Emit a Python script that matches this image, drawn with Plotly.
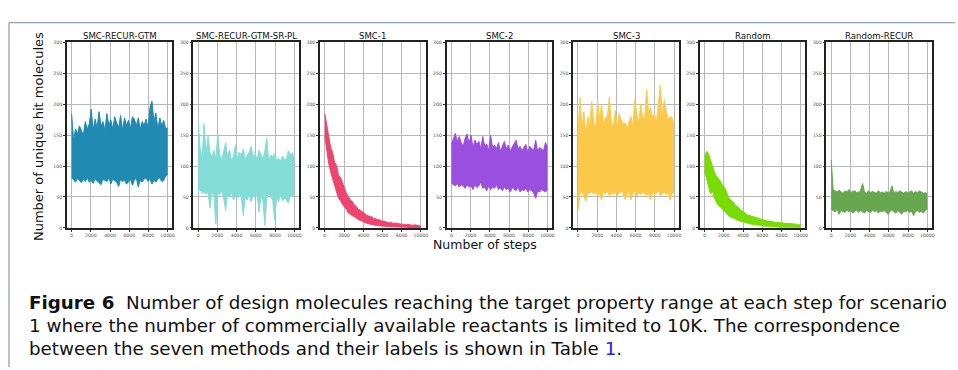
import numpy as np
import plotly.graph_objects as go

W, H = 958, 370

TITLES = ["SMC-RECUR-GTM", "SMC-RECUR-GTM-SR-PL", "SMC-1", "SMC-2", "SMC-3", "Random", "Random-RECUR"]
COLORS = ["#208ab2", "#84dcd6", "#ee4570", "#9b4fdf", "#fcc94a", "#77dd00", "#67a74f"]

X_TICKS = [0, 2000, 4000, 6000, 8000, 10000]
Y_TICKS = [0, 50, 100, 150, 200, 250, 300]
MAX_STEP = 10000

# upper / lower envelopes of the per-step counts
upper_recur_gtm = [185, 142, 160, 152, 165, 158, 150, 172, 160, 168, 192, 158, 176, 162, 188, 165, 172, 158, 185, 166,
                   175, 160, 180, 170, 162, 182, 158, 178, 166, 174, 160, 180, 176, 165, 178, 160, 172, 166, 176, 162,
                   195, 205, 172, 186, 160, 178, 165, 174, 160, 162]
lower_recur_gtm = [82, 78, 74, 80, 76, 73, 79, 75, 81, 74, 77, 72, 79, 76, 74, 70, 79, 77, 75, 81,
                   71, 79, 77, 74, 67, 79, 75, 77, 71, 74, 79, 69, 77, 81, 66, 77, 74, 79, 81, 75,
                   79, 71, 77, 74, 79, 81, 75, 77, 84, 86]

upper_recur_gtm_srpl = [175, 128, 112, 168, 120, 150, 122, 115, 125, 112, 152, 118, 110, 122, 138, 115, 126, 108, 116, 134,
                        112, 122, 118, 128, 110, 118, 122, 132, 115, 120, 110, 126, 118, 112, 125, 145, 108, 118, 115, 120,
                        110, 112, 108, 116, 110, 112, 125, 118, 122, 112]
lower_recur_gtm_srpl = [60, 62, 56, 58, 55, 57, 32, 58, 52, 6, 56, 54, 60, 48, 28, 55, 50, 57, 45, 52,
                        48, 55, 50, 20, 50, 45, 55, 42, 52, 48, 55, 26, 50, 45, 4, 48, 55, 50, 45, 12,
                        50, 42, 55, 44, 48, 45, 40, 52, 50, 55]

upper_smc1 = [185, 168, 152, 130, 122, 106, 101, 85, 82, 72, 66, 56, 51, 45, 43, 37, 35, 30, 29, 26,
              25, 21, 20, 18, 18, 15, 15, 13, 13, 11, 11, 10, 10, 8, 9, 7, 8, 7, 7, 6,
              6, 5, 6, 5, 5, 4, 5, 4, 4, 3]
lower_smc1 = [148, 122, 104, 90, 78, 68, 58, 48, 44, 38, 34, 30, 24, 22, 20, 17, 15, 13, 12, 11,
              9, 8, 7, 6, 5, 5, 4, 4, 3, 3, 3, 2, 2, 2, 2, 1, 1, 1, 1, 1,
              1, 1, 1, 0, 0, 0, 0, 0, 0, 0]

upper_smc2 = [135, 146, 153, 140, 148, 138, 132, 145, 152, 136, 150, 130, 142, 135, 140, 128, 148, 132, 136, 125,
              150, 130, 134, 128, 138, 124, 132, 140, 128, 134, 125, 130, 136, 142, 128, 132, 125, 130, 135, 122,
              132, 128, 126, 142, 124, 130, 128, 125, 138, 130]
lower_smc2 = [72, 70, 68, 72, 66, 70, 68, 64, 70, 66, 68, 62, 70, 65, 68, 74, 64, 66, 60, 68,
              62, 66, 64, 70, 62, 65, 60, 66, 62, 64, 58, 65, 62, 60, 66, 58, 62, 60, 64, 58,
              62, 60, 56, 48, 60, 58, 62, 60, 58, 62]

upper_smc3 = [150, 211, 160, 188, 150, 180, 165, 204, 172, 160, 205, 175, 200, 168, 178, 180, 212, 170, 165, 190,
              160, 185, 175, 168, 170, 160, 172, 180, 165, 208, 185, 170, 200, 180, 175, 224, 185, 195, 178, 185,
              170, 196, 231, 180, 207, 190, 175, 180, 178, 168]
lower_smc3 = [28, 55, 60, 52, 43, 58, 55, 60, 54, 58, 52, 56, 45, 58, 55, 60, 52, 56, 54, 58,
              52, 56, 60, 55, 46, 54, 58, 45, 55, 60, 52, 56, 54, 58, 55, 52, 56, 45, 58, 54,
              56, 60, 52, 55, 58, 54, 56, 45, 55, 58]

upper_random = [115, 124, 120, 110, 100, 90, 84, 80, 76, 70, 66, 60, 50, 46, 44, 40, 36, 34, 30, 28,
                25, 23, 21, 20, 19, 18, 16, 15, 15, 14, 13, 12, 11, 11, 10, 10, 9, 9, 8, 8,
                8, 7, 7, 7, 7, 6, 6, 6, 5, 5]
lower_random = [92, 80, 68, 55, 60, 48, 42, 36, 34, 30, 27, 24, 20, 18, 17, 15, 14, 12, 11, 10,
                9, 8, 7, 6, 6, 5, 5, 5, 4, 4, 3, 3, 3, 2, 2, 2, 2, 2, 1, 1,
                1, 1, 1, 1, 1, 1, 1, 1, 1, 1]

upper_random_recur = [110, 62, 60, 58, 61, 59, 56, 60, 58, 62, 57, 59, 60, 57, 58, 61, 72, 58, 56, 60,
                      57, 59, 58, 56, 60, 57, 58, 56, 59, 57, 58, 68, 56, 59, 57, 60, 58, 56, 59, 57,
                      58, 60, 56, 59, 57, 60, 58, 56, 57, 55]
lower_random_recur = [30, 28, 26, 30, 22, 28, 27, 25, 29, 26, 28, 24, 27, 29, 25, 28, 26, 24, 28, 27,
                      25, 29, 26, 28, 24, 27, 26, 28, 25, 22, 27, 29, 26, 24, 28, 25, 22, 27, 26, 28,
                      25, 27, 20, 26, 28, 25, 27, 24, 28, 30]

UPPER = [upper_recur_gtm, upper_recur_gtm_srpl, upper_smc1, upper_smc2, upper_smc3, upper_random, upper_random_recur]
LOWER = [lower_recur_gtm, lower_recur_gtm_srpl, lower_smc1, lower_smc2, lower_smc3, lower_random, lower_random_recur]

Y_LABEL = "Number of unique hit molecules"
X_LABEL = "Number of steps"
CAPTION = [
    "<b>Figure 6</b>  Number of design molecules reaching the target property range at each step for scenario",
    "1 where the number of commercially available reactants is limited to 10K. The correspondence",
    "between the seven methods and their labels is shown in Table <span style='color:#2020ff'>1</span>.",
]

fig = go.Figure()

# layout geometry in pixels
PLOT_LEFT0, PLOT_STEP, PLOT_W = 67, 127, 106
PLOT_TOP, PLOT_BOTTOM = 41, 229
ydom = [1 - PLOT_BOTTOM / H, 1 - PLOT_TOP / H]

annotations = []
for i in range(7):
    k = "" if i == 0 else str(i + 1)
    xa, ya = "x" + k, "y" + k
    up, lo = UPPER[i], LOWER[i]
    xs_u = np.linspace(0, MAX_STEP, len(up))
    xs_l = np.linspace(0, MAX_STEP, len(lo))
    fig.add_trace(go.Scatter(x=xs_u, y=up, mode="lines", line=dict(color=COLORS[i], width=1),
                             xaxis=xa, yaxis=ya, showlegend=False, hoverinfo="skip"))
    fig.add_trace(go.Scatter(x=xs_l, y=lo, mode="lines", line=dict(color=COLORS[i], width=1),
                             fill="tonexty", fillcolor=COLORS[i],
                             xaxis=xa, yaxis=ya, showlegend=False, hoverinfo="skip"))
    left = PLOT_LEFT0 + i * PLOT_STEP
    xdom = [left / W, (left + PLOT_W) / W]
    common = dict(showgrid=True, gridcolor="#b8b8b8", gridwidth=1.2, zeroline=False,
                  showline=True, mirror=True, linecolor="#222222", linewidth=1.6,
                  ticks="outside", ticklen=2, tickwidth=0.8, tickcolor="#333333",
                  tickfont=dict(family="DejaVu Sans", size=4.6, color="#555555"))
    fig.layout["xaxis" + k] = dict(domain=xdom, range=[-500, 10500], tickvals=X_TICKS,
                                   ticktext=[str(v) for v in X_TICKS], anchor=ya, **common)
    fig.layout["yaxis" + k] = dict(domain=ydom, range=[0, 300], tickvals=Y_TICKS,
                                   ticktext=[str(v) for v in Y_TICKS], anchor=xa, **common)
    annotations.append(dict(text=TITLES[i], x=(left + PLOT_W / 2) / W, y=1 - 34 / H,
                            xref="paper", yref="paper", xanchor="center", yanchor="middle",
                            showarrow=False, font=dict(family="DejaVu Sans", size=8.6, color="#111111")))

annotations.append(dict(text=Y_LABEL, x=38 / W, y=1 - 136 / H, xref="paper", yref="paper",
                        textangle=-90, xanchor="center", yanchor="middle", showarrow=False,
                        font=dict(family="DejaVu Sans", size=13, color="#111111")))
annotations.append(dict(text=X_LABEL, x=487 / W, y=1 - 246 / H, xref="paper", yref="paper",
                        xanchor="center", yanchor="middle", showarrow=False,
                        font=dict(family="DejaVu Sans", size=12.5, color="#111111")))

for j, line in enumerate(CAPTION):
    annotations.append(dict(text=line, x=27 / W, y=1 - (305 + 23 * j) / H, xref="paper", yref="paper",
                            xanchor="left", yanchor="middle", showarrow=False,
                            font=dict(family="DejaVu Sans", size=18.3, color="#111111")))

shapes = [
    dict(type="line", xref="paper", yref="paper", x0=9 / W, x1=1, y0=1 - 21 / H, y1=1 - 21 / H,
         line=dict(color="#6f86b6", width=1)),
    dict(type="line", xref="paper", yref="paper", x0=9 / W, x1=9 / W, y0=0, y1=1 - 21 / H,
         line=dict(color="#6f86b6", width=1)),
]

fig.update_layout(width=W, height=H, margin=dict(l=0, r=0, t=0, b=0),
                  paper_bgcolor="white", plot_bgcolor="white",
                  annotations=annotations, shapes=shapes)

fig.write_html("out.html", config={"displayModeBar": False})
